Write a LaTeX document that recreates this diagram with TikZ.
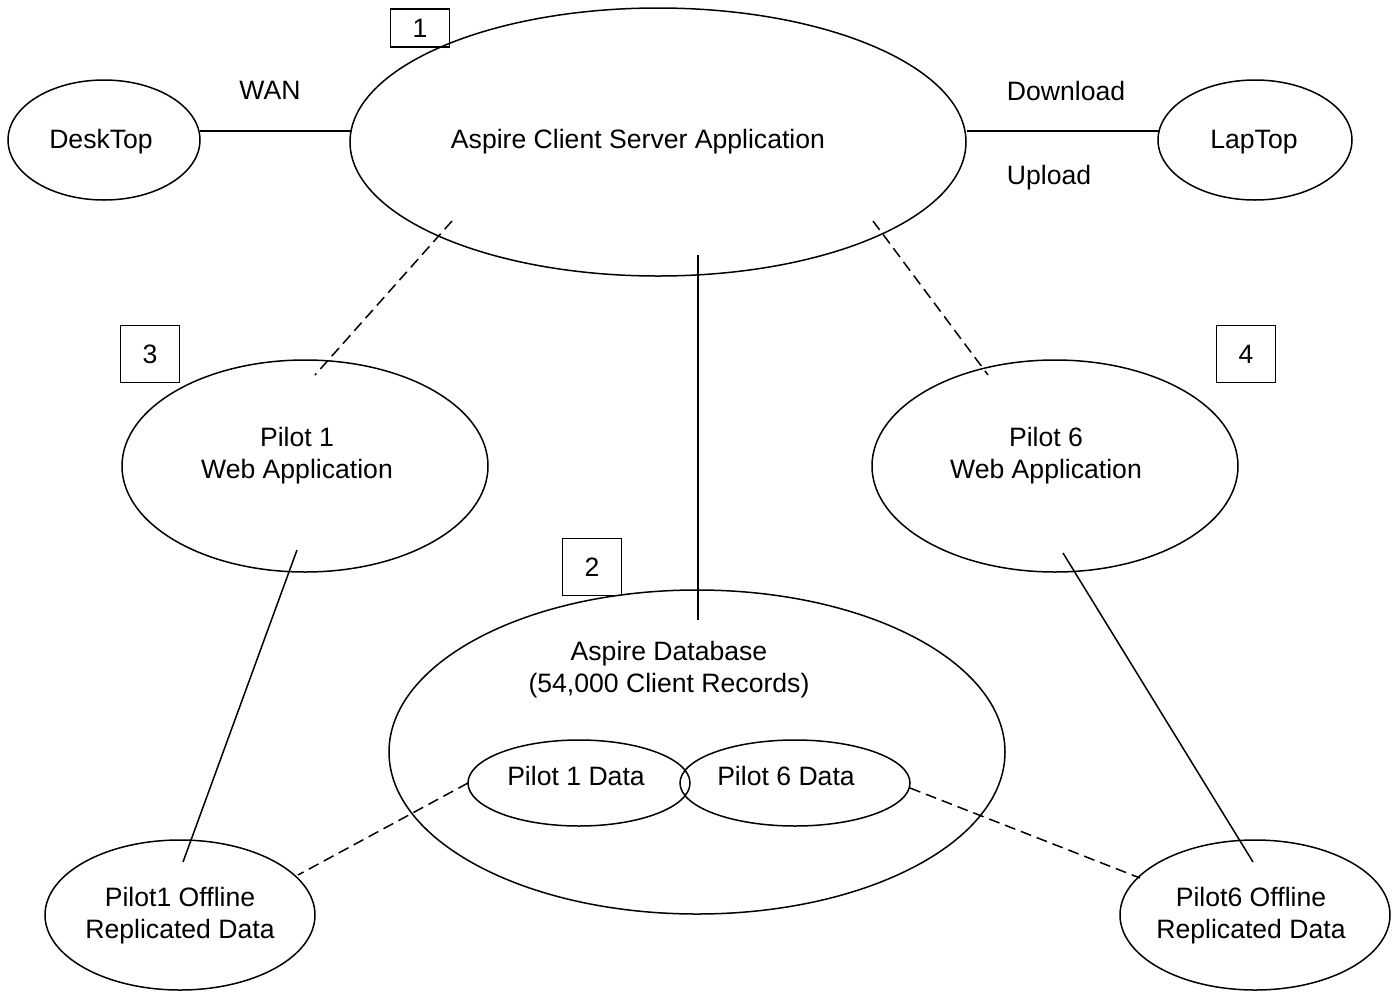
\documentclass[tikz,border=0pt]{standalone}
\usepackage{fontspec}
\setmainfont{Liberation Sans}
\usetikzlibrary{shapes.geometric}
\begin{document}
\begin{tikzpicture}[x=0.5pt,y=-0.5pt,
  every node/.style={font=\fontsize{13.3}{16}\selectfont},
  oval/.style={draw,ellipse,line width=0.75pt,inner sep=0pt},
  numbox/.style={draw,line width=0.6pt,minimum width=29.5pt,minimum height=28.5pt,inner sep=0pt},
  txt/.style={align=center,inner sep=0pt},
  conn/.style={line width=0.75pt},
  dconn/.style={line width=0.75pt,dash pattern=on 5.5pt off 3pt}]
\useasboundingbox (0,0) rectangle (1394,992);
\fill[white] (0,0) rectangle (1394,992);
% ellipses
\node[oval,minimum width=308pt,minimum height=134pt] (main) at (658,142) {};
\node[oval,minimum width=96pt,minimum height=60pt] (desk) at (104,140) {};
\node[oval,minimum width=97pt,minimum height=60pt] (lap) at (1255,140) {};
\node[oval,minimum width=183pt,minimum height=106pt] (p1) at (305,466) {};
\node[oval,minimum width=183pt,minimum height=106pt] (p6) at (1055,466) {};
\node[oval,minimum width=308pt,minimum height=162pt] (db) at (697,752) {};
\node[oval,minimum width=111pt,minimum height=43pt] (d1) at (579,783) {};
\node[oval,minimum width=115pt,minimum height=43pt] (d6) at (795,783) {};
\node[oval,minimum width=135pt,minimum height=75pt] (o1) at (180,915) {};
\node[oval,minimum width=135pt,minimum height=75pt] (o6) at (1255,915) {};
% boxes
\node[numbox,minimum height=19pt] (b1) at (420,28) {1};
\node[numbox] (b2) at (592,567) {2};
\node[numbox] (b3) at (150,354) {3};
\node[numbox] (b4) at (1246,354) {4};
% texts
\node[txt] (tmain) at (638,142) {Aspire Client Server Application};
\node[txt] (tdesk) at (101,142) {DeskTop};
\node[txt] (tlap) at (1254,142) {LapTop};
\node[txt] (twan) at (270,90) {WAN};
\node[txt] (tdown) at (1066,91) {Download};
\node[txt] (tup) at (1049,178) {Upload};
\node[txt] (tp1) at (297,456) {Pilot 1\\Web Application};
\node[txt] (tp6) at (1046,456) {Pilot 6\\Web Application};
\node[txt] (tdb) at (669,670) {Aspire Database\\(54,000 Client Records)};
\node[txt] (td1) at (576,776) {Pilot 1 Data};
\node[txt] (td6) at (786,776) {Pilot 6 Data};
\node[txt] (to1) at (180,916) {Pilot1 Offline\\Replicated Data};
\node[txt] (to6) at (1251,916) {Pilot6 Offline\\Replicated Data};
% connector end points
\coordinate (dR) at (200,131);
\coordinate (mL) at (352,131);
\coordinate (mR) at (967,131);
\coordinate (lL) at (1160,131);
\coordinate (m1) at (452,221);
\coordinate (p1t) at (315,375);
\coordinate (m6) at (873,221);
\coordinate (p6t) at (988,375);
\coordinate (mv) at (698,255);
\coordinate (dbt) at (698,620);
\coordinate (p1b) at (297,550);
\coordinate (o1t) at (183,862);
\coordinate (p6b) at (1063,553);
\coordinate (o6t) at (1253,862);
\coordinate (d1l) at (468,783);
\coordinate (o1r) at (298,875);
\coordinate (d6r) at (910,788);
\coordinate (o6l) at (1140,878);
% connectors
\draw[conn] (dR) -- (mL);
\draw[conn] (mR) -- (lL);
\draw[dconn] (m1) -- (p1t);
\draw[dconn] (m6) -- (p6t);
\draw[conn] (mv) -- (dbt);
\draw[conn] (p1b) -- (o1t);
\draw[conn] (p6b) -- (o6t);
\draw[dconn] (d1l) -- (o1r);
\draw[dconn] (d6r) -- (o6l);
\end{tikzpicture}
\end{document}
